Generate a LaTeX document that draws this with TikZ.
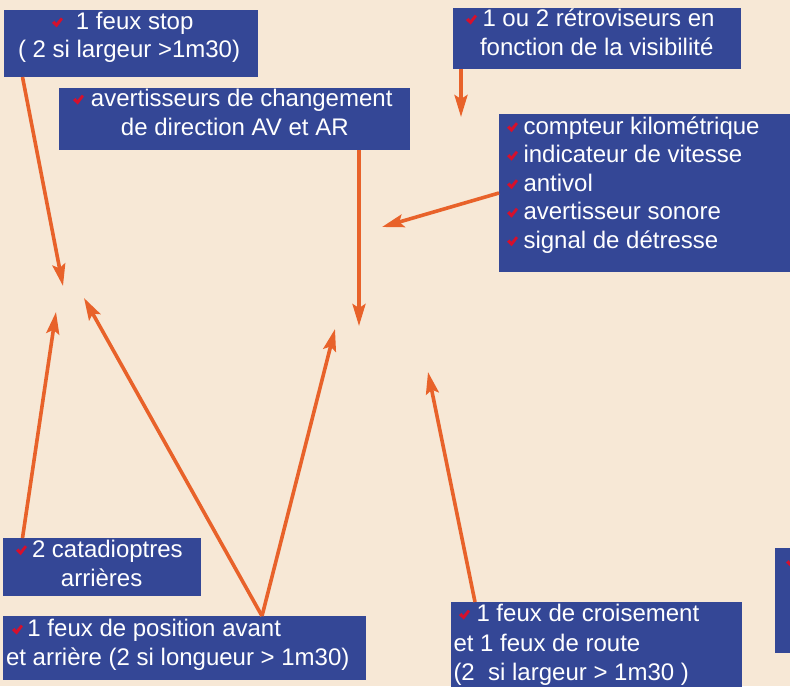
\documentclass[tikz,border=0pt]{standalone}
\usepackage{fontspec}
\setmainfont{Liberation Sans}
\usetikzlibrary{arrows.meta}
\definecolor{bg}{HTML}{F7E8D6}
\definecolor{boxblue}{HTML}{344796}
\definecolor{arrcol}{HTML}{E8622A}
\definecolor{chk}{HTML}{D6102C}
\newcommand\ck{\makebox[0pt][l]{\tikz[x=1pt,y=1pt,baseline=0pt]{\fill[chk] (0,6.6)--(2.5,8.8)--(4.3,6.4)--(8.9,12)--(11,10.3)--(4.7,2.1)--cycle;}}}
\newcommand\bxc[4]{\begin{minipage}[t][#2][t]{#1}\fontsize{24}{#3}\selectfont\raggedright #4\end{minipage}}
\tikzset{
  box/.style={inner sep=0pt, outer sep=0pt, fill=boxblue, text=white, anchor=north west},
  arrowline/.style={draw=arrcol, line width=3.6pt, -{Stealth[length=22pt,width=13pt,inset=4pt]}}
}
\begin{document}
\begin{tikzpicture}[x=1pt,y=-1pt]
\useasboundingbox (0,0) rectangle (790,686);
\clip (0,0) rectangle (790,686);
\fill[bg] (0,0) rectangle (790,686);

\node[box] (b1) at (4,10) {\bxc{254pt}{67pt}{28pt}{\rule{0pt}{19.5pt}\hspace*{48pt}\ck\hspace*{24pt}1 feux stop\\
\hspace*{14pt}( 2 si largeur >1m30)}};

\node[box] (b2) at (453,8) {\bxc{288pt}{61pt}{28.6pt}{\rule{0pt}{18.7pt}\hspace*{13pt}\ck\hspace*{16.5pt}1 ou 2 rétroviseurs en\\
\hspace*{27pt}fonction de la visibilité}};

\node[box] (b3) at (59,88) {\bxc{351pt}{62pt}{28.3pt}{\rule{0pt}{18.7pt}\hspace*{14pt}\ck\hspace*{18pt}avertisseurs de changement\\
\hspace*{62pt}de direction AV et AR}};

\node[box] (b4) at (499,114) {\bxc{301pt}{158pt}{28.5pt}{\rule{0pt}{20.3pt}\hspace*{8pt}\ck\hspace*{16.5pt}compteur kilométrique\\
\hspace*{8pt}\ck\hspace*{16.5pt}indicateur de vitesse\\
\hspace*{8pt}\ck\hspace*{16.5pt}antivol\\
\hspace*{8pt}\ck\hspace*{16.5pt}avertisseur sonore\\
\hspace*{8pt}\ck\hspace*{16.5pt}signal de détresse}};

\node[box] (b5) at (775,548) {\bxc{30pt}{105pt}{28.5pt}{\rule{0pt}{21pt}\hspace*{11pt}\ck}};

\node[box] (b6) at (3,538) {\bxc{198pt}{58pt}{28.7pt}{\rule{0pt}{19.3pt}\hspace*{13pt}\ck\hspace*{16pt}2 catadioptres\\
\hspace*{58pt}arrières}};

\node[box] (b7) at (3,616) {\bxc{363pt}{64pt}{28.3pt}{\rule{0pt}{20.7pt}\hspace*{9pt}\ck\hspace*{15.5pt}1 feux de position avant\\
\hspace*{3pt}et arrière (2 si longueur > 1m30)}};

\node[box] (b8) at (451,602) {\bxc{291pt}{100pt}{29.5pt}{\rule{0pt}{19.7pt}\hspace*{8pt}\ck\hspace*{17.5pt}1 feux de croisement\\
\hspace*{2.5pt}et 1 feux de route\\
\hspace*{2.5pt}(2\ \ si largeur > 1m30 )}};

\coordinate (t1) at (63,286);
\coordinate (t2) at (461,117);
\coordinate (t3) at (359,326);
\coordinate (t4) at (382,227);
\coordinate (t5) at (56,312);
\coordinate (t6) at (84,298);
\coordinate (t7) at (335,329);
\coordinate (t8) at (428,372);

\draw[arrowline] ([xshift=18.5pt]b1.south west) -- (t1);
\draw[arrowline] ([xshift=8pt]b2.south west) -- (t2);
\draw[arrowline] ([xshift=300pt]b3.south west) -- (t3);
\draw[arrowline] (b4.west) -- (t4);
\draw[arrowline] ([xshift=19.5pt]b6.north west) -- (t5);
\draw[arrowline] ([xshift=259pt]b7.north west) -- (t6);
\draw[arrowline] ([xshift=259pt]b7.north west) -- (t7);
\draw[arrowline] ([xshift=24pt]b8.north west) -- (t8);
\end{tikzpicture}
\end{document}
